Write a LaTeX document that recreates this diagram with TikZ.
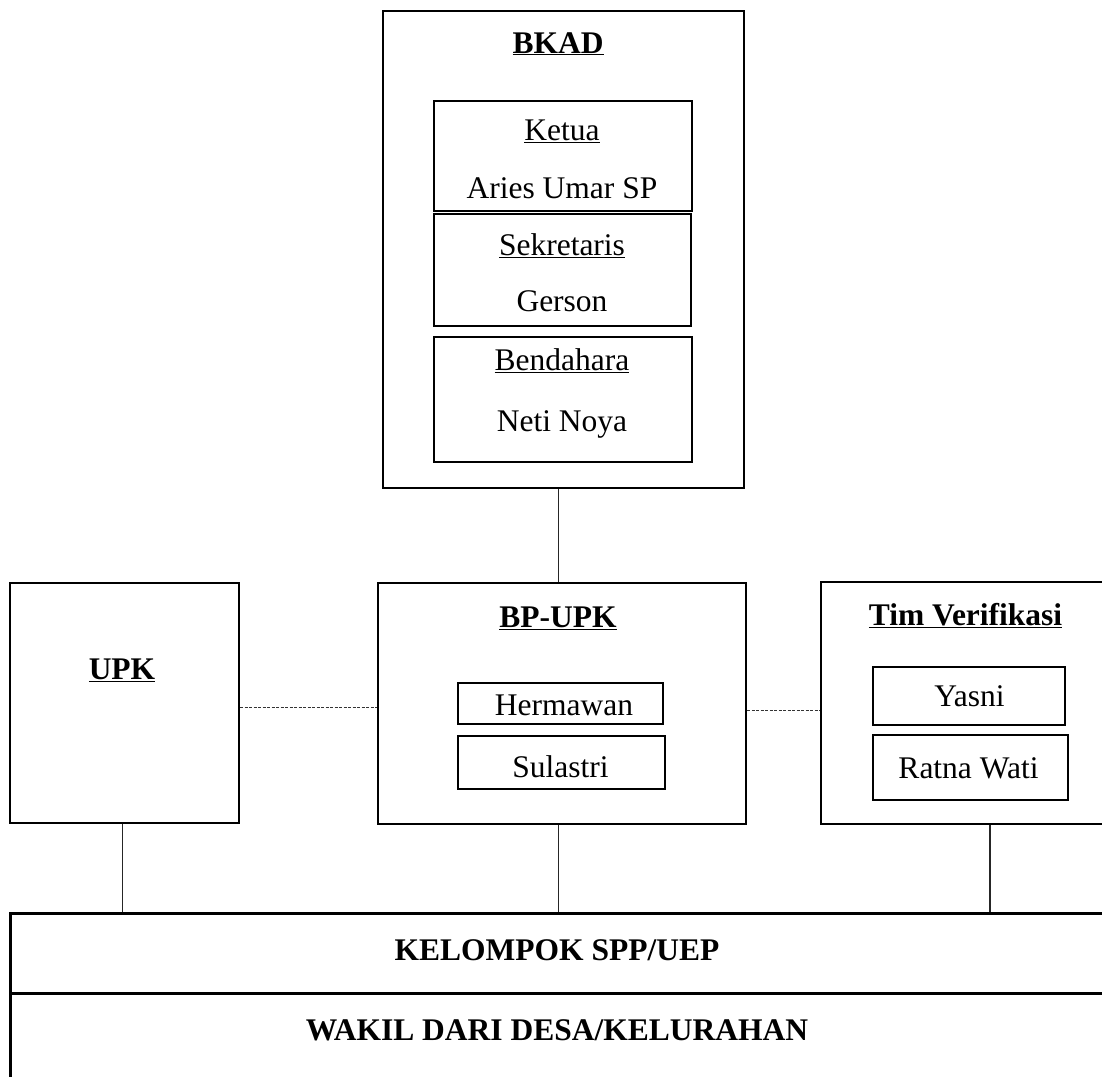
\documentclass[tikz,border=0pt]{standalone}
\usepackage{fontspec}
\setmainfont{Liberation Serif}
\begin{document}
\begin{tikzpicture}[x=1pt,y=-1pt,
  box/.style={draw, line width=2.2pt, inner sep=0pt, anchor=north west},
  bigbox/.style={draw, line width=2.8pt, inner sep=0pt, anchor=north west},
  lbl/.style={anchor=base, inner sep=0pt, font=\fontsize{31.5}{38}\selectfont},
  blbl/.style={lbl, font=\fontsize{31.5}{38}\selectfont\bfseries},
  conn/.style={draw=black!85, line width=1.2pt},
  dconn/.style={draw=black!80, line width=1.2pt, dash pattern=on 3pt off 1.5pt}]
\useasboundingbox (0,0) rectangle (1102,1076);
\clip (0,0) rectangle (1102,1076);
% boxes
\node[box, minimum width=361pt, minimum height=477pt] (bkad) at (382,10) {};
\node[box, minimum width=258pt, minimum height=110pt] (ketua) at (433,100) {};
\node[box, minimum width=257pt, minimum height=112pt] (sekr) at (433,213) {};
\node[box, minimum width=258pt, minimum height=125pt] (bend) at (433,336) {};
\node[box, minimum width=229pt, minimum height=240pt] (upk) at (9,582) {};
\node[box, minimum width=368pt, minimum height=241pt] (bpupk) at (377,582) {};
\node[box, minimum width=205pt, minimum height=41pt] (herm) at (457,682) {};
\node[box, minimum width=207pt, minimum height=53pt] (sul) at (457,735) {};
\node[box, minimum width=300pt, minimum height=242pt] (tim) at (820,581) {};
\node[box, minimum width=192pt, minimum height=58pt] (yasni) at (872,666) {};
\node[box, minimum width=195pt, minimum height=65pt] (ratna) at (872,734) {};
\node[bigbox, minimum width=1120pt, minimum height=80pt] (kel) at (9,912) {};
\node[bigbox, minimum width=1120pt, minimum height=110pt] (wakil) at (9,992) {};
% texts
\node[blbl] (tbkad) at (558,53) {\underline{BKAD}};
\node[lbl] (tketua) at (562,140) {\underline{Ketua}};
\node[lbl] (taries) at (562,198) {Aries Umar SP};
\node[lbl] (tsekr) at (562,255) {\underline{Sekretaris}};
\node[lbl] (tgerson) at (562,311) {Gerson};
\node[lbl] (tbend) at (562,370) {\underline{Bendahara}};
\node[lbl] (tneti) at (562,431) {Neti Noya};
\node[blbl] (tupk) at (122,679) {\underline{UPK}};
\node[blbl] (tbpupk) at (558,627) {\underline{BP-UPK}};
\node[lbl] (therm) at (564,715) {Hermawan};
\node[lbl] (tsul) at (560.5,777) {Sulastri};
\node[blbl] (ttim) at (965.5,625) {\underline{Tim Verifikasi}};
\node[lbl] (tyasni) at (969.5,706) {Yasni};
\node[lbl] (tratna) at (968.5,778) {Ratna Wati};
\node[blbl] (tkel) at (557,960) {KELOMPOK SPP/UEP};
\node[blbl] (twakil) at (557,1040) {WAKIL DARI DESA/KELURAHAN};
% connectors
\draw[conn] ([xshift=-5.5pt]bkad.south) -- ([xshift=-5.5pt]bkad.south |- bpupk.north);
\draw[dconn] ([yshift=-4pt]upk.east) -- ([yshift=-4pt]upk.east -| bpupk.west);
\draw[dconn] ([yshift=-7pt]bpupk.east) -- ([yshift=-7pt]bpupk.east -| tim.west);
\draw[conn] ([xshift=-2.5pt]upk.south) -- ([xshift=-2.5pt]upk.south |- kel.north);
\draw[conn] ([xshift=-4pt]bpupk.south) -- ([xshift=-4pt]bpupk.south |- kel.north);
\draw[conn] ([xshift=170pt]tim.south west) -- ([xshift=170pt]tim.south west |- kel.north);
\end{tikzpicture}
\end{document}
